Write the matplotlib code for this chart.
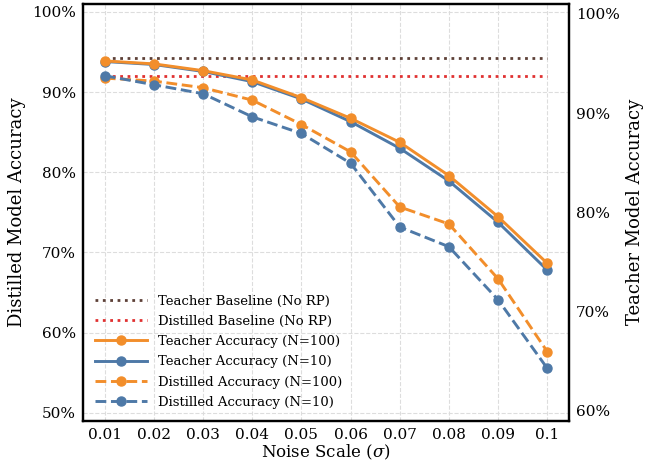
import matplotlib
matplotlib.use("Agg")
import matplotlib.pyplot as plt
from matplotlib.ticker import FuncFormatter

plt.rcParams['font.family'] = ['DejaVu Serif']
plt.rcParams['mathtext.fontset'] = 'dejavuserif'

noise = [0.01, 0.02, 0.03, 0.04, 0.05, 0.06, 0.07, 0.08, 0.09, 0.1]
noise_labels = ['0.01', '0.02', '0.03', '0.04', '0.05', '0.06', '0.07', '0.08', '0.09', '0.1']

teacher_baseline = 95.6
distilled_baseline = 92.0

teacher_n100 = [95.26, 94.96, 94.28, 93.34, 91.56, 89.48, 87.06, 83.70, 79.56, 74.87]
teacher_n10 = [95.20, 94.90, 94.20, 93.17, 91.43, 89.14, 86.46, 83.16, 79.00, 74.19]
distilled_n100 = [91.75, 91.38, 90.55, 89.00, 85.96, 82.55, 75.67, 73.55, 66.71, 57.63]
distilled_n10 = [92.05, 90.92, 89.80, 86.92, 84.84, 81.13, 73.17, 70.71, 64.09, 55.55]

orange = '#F28E2B'
blue = '#4E79A7'

fig, ax1 = plt.subplots(figsize=(6.51, 4.63), dpi=100)
fig.subplots_adjust(left=0.127, right=0.8745, bottom=0.0914, top=0.9914)
ax2 = ax1.twinx()

# distilled model on the left axis
h_db = ax1.hlines(distilled_baseline, noise[0], noise[-1], color='#E03131',
                  linestyle=':', linewidth=2, label='Distilled Baseline (No RP)')
h_d100, = ax1.plot(noise, distilled_n100, color=orange, linestyle='--', marker='o',
                   markersize=6.5, linewidth=2.1, label='Distilled Accuracy (N=100)')
h_d10, = ax1.plot(noise, distilled_n10, color=blue, linestyle='--', marker='o',
                  markersize=6.5, linewidth=2.1, label='Distilled Accuracy (N=10)')

# teacher model on the right axis
h_tb = ax2.hlines(teacher_baseline, noise[0], noise[-1], color='#5D4037',
                  linestyle=':', linewidth=2, label='Teacher Baseline (No RP)')
h_t10, = ax2.plot(noise, teacher_n10, color=blue, linestyle='-', marker='o',
                  markersize=6.5, linewidth=2.1, label='Teacher Accuracy (N=10)')
h_t100, = ax2.plot(noise, teacher_n100, color=orange, linestyle='-', marker='o',
                   markersize=6.5, linewidth=2.1, label='Teacher Accuracy (N=100)')

ax1.set_ylim(49, 101)
ax2.set_ylim(59, 101)
ax1.set_yticks([50, 60, 70, 80, 90, 100])
ax2.set_yticks([60, 70, 80, 90, 100])
pct = FuncFormatter(lambda v, p: f'{v:.0f}%')
ax1.yaxis.set_major_formatter(pct)
ax2.yaxis.set_major_formatter(pct)

ax1.set_xticks(noise)
ax1.set_xticklabels(noise_labels)
ax1.set_xlim(0.0055, 0.1045)

ax1.set_xlabel(r'Noise Scale ($\sigma$)', fontsize=12, labelpad=1)
ax1.set_ylabel('Distilled Model Accuracy', fontsize=13)
ax2.set_ylabel('Teacher Model Accuracy', fontsize=13)

for ax in (ax1, ax2):
    ax.tick_params(length=0, labelsize=11, pad=5)
    for s in ax.spines.values():
        s.set_linewidth(1.6)
        s.set_color('black')

ax1.grid(True, linestyle='--', color='#dddddd', linewidth=0.8)
ax1.set_axisbelow(True)

handles = [h_tb, h_db, h_t100, h_t10, h_d100, h_d10]
ax2.legend(handles=handles, labels=[h.get_label() for h in handles],
           loc='lower left', frameon=False, fontsize=9.5, handlelength=4,
           labelspacing=0.55)

plt.savefig('out.png', dpi=100)
